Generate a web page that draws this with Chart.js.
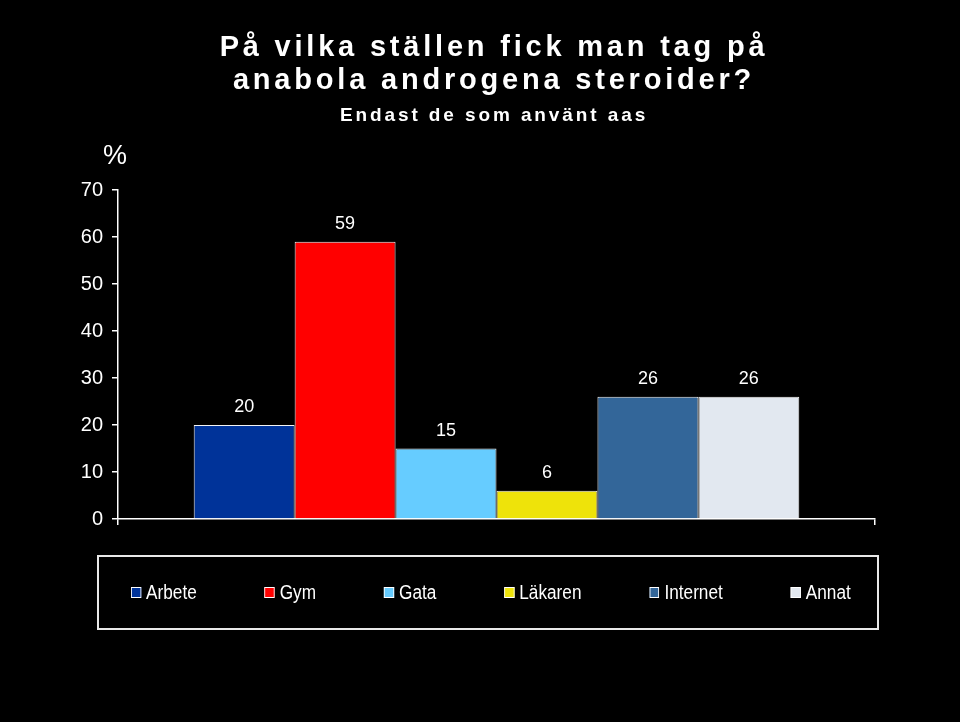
<!DOCTYPE html>
<html>
<head>
<meta charset="utf-8">
<script src="https://cdn.jsdelivr.net/npm/chart.js@4/dist/chart.umd.min.js"></script>
<style>
  body { margin: 0; background: #000; }
  #wrap { position: relative; width: 960px; height: 722px; background: #000; }
  #myChart { position: absolute; left: 0; top: 0; }
  .title { position: absolute; left: 0; width: 988px; text-align: center; color: #fff;
           font-family: "Liberation Sans", Arial, sans-serif; font-weight: bold; }
  #t1 { top: 30px; font-size: 29px; line-height: 33px; letter-spacing: 3.8px; }
  #t2 { top: 104px; font-size: 19px; line-height: 22px; letter-spacing: 2.9px; }
  #pct { position: absolute; left: 103px; top: 140px; color: #fff; font: 27px "Liberation Sans", Arial, sans-serif; }
  #legend { position: absolute; left: 97px; top: 555px; width: 778px; height: 71px;
            border: 2px solid #e8e8e8; }
  #legend .items { position: absolute; left: 32px; top: 24px; display: flex; white-space: nowrap;
                   transform: scaleX(0.86); transform-origin: left center; }
  #legend .item { display: flex; align-items: center; margin-right: 79px; color: #fff;
                  font: 20px "Liberation Sans", Arial, sans-serif; }
  #legend .box { width: 9.5px; height: 9px; border: 1px solid #fff; margin-right: 6px; }
</style>
</head>
<body>
<div id="wrap">
  <canvas id="myChart" width="960" height="722"></canvas>
  <div class="title" id="t1">På vilka ställen fick man tag på<br>anabola androgena steroider?</div>
  <div class="title" id="t2">Endast de som använt aas</div>
  <div id="pct">%</div>
  <div id="legend"><div class="items" id="legendItems"></div></div>
</div>
<script>
const sources = ['Arbete', 'Gym', 'Gata', 'Läkaren', 'Internet', 'Annat'];
const percent = [20, 59, 15, 6, 26, 26];
const colors = ['#003399', '#ff0000', '#66ccff', '#eee30a', '#336699', '#e2e8f0'];
const yTicks = [0, 10, 20, 30, 40, 50, 60, 70];

const fontFamily = '"Liberation Sans", Arial, sans-serif';

// value labels above each bar
const valueLabels = {
  id: 'valueLabels',
  afterDatasetsDraw(chart) {
    const ctx = chart.ctx;
    ctx.save();
    ctx.fillStyle = '#fff';
    ctx.font = '18px ' + fontFamily;
    ctx.textAlign = 'center';
    ctx.textBaseline = 'alphabetic';
    chart.data.datasets.forEach((ds, i) => {
      chart.getDatasetMeta(i).data.forEach((bar, j) => {
        ctx.fillText(ds.data[j], bar.x, bar.y - 13);
      });
    });
    ctx.restore();
  }
};

const ctx = document.getElementById('myChart').getContext('2d');

const chart = new Chart(ctx, {
  type: 'bar',
  data: {
    labels: [''],
    datasets: sources.map((s, i) => ({
      label: s,
      data: [percent[i]],
      backgroundColor: colors[i],
      borderColor: '#f4f4f4',
      borderWidth: 1
    }))
  },
  options: {
    responsive: false,
    animation: false,
    layout: { padding: { top: 190, right: 85, bottom: 197, left: 0 } },
    datasets: { bar: { categoryPercentage: 0.8, barPercentage: 1 } },
    plugins: {
      legend: { display: false },
      tooltip: { enabled: false }
    },
    scales: {
      x: {
        ticks: { display: false },
        grid: { offset: true, drawOnChartArea: false, tickLength: 6, color: '#fff', lineWidth: 1.5 },
        border: { color: '#fff', width: 1.5 }
      },
      y: {
        min: 0,
        max: 70,
        afterFit(scale) { scale.width = 118; },
        afterBuildTicks(scale) { scale.ticks = yTicks.map(v => ({ value: v })); },
        ticks: { color: '#fff', padding: 9, font: { size: 20, family: fontFamily } },
        grid: { drawOnChartArea: false, tickLength: 6, color: '#fff', lineWidth: 1.5 },
        border: { color: '#fff', width: 1.5 }
      }
    }
  },
  plugins: [valueLabels]
});

// legend built from the chart datasets
const legendEl = document.getElementById('legendItems');
chart.data.datasets.forEach(ds => {
  const item = document.createElement('div');
  item.className = 'item';
  const box = document.createElement('span');
  box.className = 'box';
  box.style.background = ds.backgroundColor;
  item.appendChild(box);
  item.appendChild(document.createTextNode(ds.label));
  legendEl.appendChild(item);
});
</script>
</body>
</html>
